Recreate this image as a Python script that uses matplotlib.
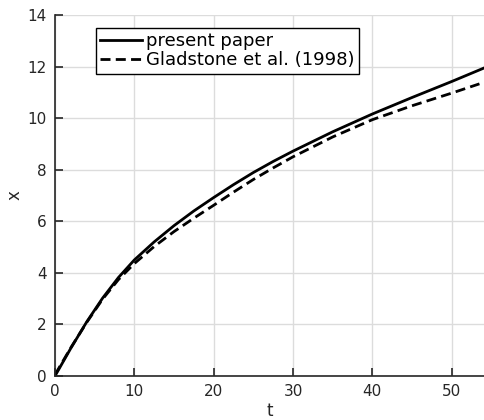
import numpy as np
import matplotlib.pyplot as plt

# present paper
t_present = [0, 2, 4, 6, 8, 10, 12.5, 15, 17.5, 20, 22.5, 25, 27.5, 30, 35, 40, 45, 50, 54.2]
x_present = [0, 1.08, 2.1, 3.02, 3.82, 4.5, 5.2, 5.83, 6.4, 6.92, 7.42, 7.89, 8.32, 8.72,
             9.47, 10.16, 10.8, 11.42, 11.96]

# Gladstone et al. (1998)
t_glad = [0, 2, 4, 6, 8, 10, 12.5, 15, 17.5, 20, 22.5, 25, 27.5, 30, 35, 40, 45, 50, 53.5]
x_glad = [0.05, 1.1, 2.08, 2.98, 3.74, 4.36, 5.02, 5.6, 6.12, 6.62, 7.13, 7.62, 8.07, 8.5,
          9.27, 9.94, 10.48, 10.97, 11.33]

fig = plt.figure(figsize=(4.85, 4.2), dpi=100)
ax = fig.add_axes([0.1134, 0.1048, 0.8866, 0.8595])

ax.plot(t_present, x_present, color='black', lw=2, label='present paper')
ax.plot(t_glad, x_glad, color='black', lw=2, linestyle=(0, (3.6, 1.9)), label='Gladstone et al. (1998)')

ax.set_xlim(0, 54.2)
ax.set_ylim(0, 14)
ax.set_xticks([0, 10, 20, 30, 40, 50])
ax.set_yticks([0, 2, 4, 6, 8, 10, 12, 14])
ax.grid(True, color='#dcdcdc', lw=1)
ax.set_axisbelow(True)
for s in ['top', 'right']:
    ax.spines[s].set_visible(False)
for s in ['left', 'bottom']:
    ax.spines[s].set_color('#262626')
    ax.spines[s].set_linewidth(1.2)
ax.tick_params(direction='in', length=6, width=1.2, color='#262626',
               labelsize=11, labelcolor='#262626', pad=6)
ax.set_xlabel('t', fontsize=12, color='#262626', labelpad=2)
ax.set_ylabel('x', fontsize=12, color='#262626', labelpad=3)

leg = ax.legend(loc='upper left', bbox_to_anchor=(0.095, 0.965), fontsize=13,
                frameon=True, fancybox=False, edgecolor='black', framealpha=1,
                handlelength=2.3, handletextpad=0.2, borderpad=0.25, labelspacing=0.05,
                borderaxespad=0)
leg.get_frame().set_linewidth(1.0)

fig.savefig('out.png', dpi=100)
